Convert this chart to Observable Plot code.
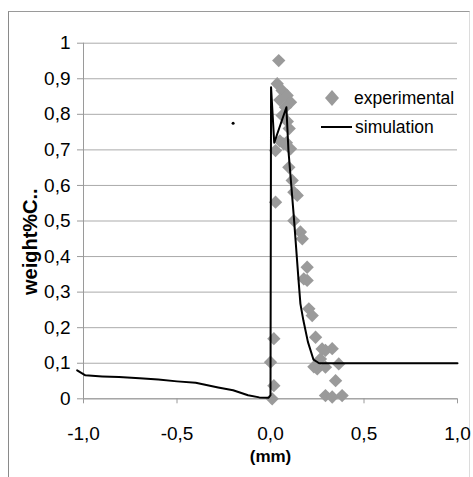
<!DOCTYPE html>
<html><head><meta charset="utf-8">
<script src="https://cdn.jsdelivr.net/npm/d3@7"></script>
<script src="https://cdn.jsdelivr.net/npm/@observablehq/plot@0.6"></script>
<style>
body{margin:0;background:#fff;}
#wrap{position:relative;width:473px;height:477px;overflow:hidden;font-family:"Liberation Sans",Arial,sans-serif;background:#fff;}
#border{position:absolute;left:8px;top:11px;width:460px;height:480px;border-left:1.5px solid #8a8a8a;border-top:1.5px solid #9a9a9a;border-right:1px solid #dcdcdc;}
#chart{position:absolute;left:0;top:0;}
.leg{position:absolute;font-size:17.5px;color:#000;white-space:nowrap;line-height:1;}
</style>
</head><body>
<div id="wrap"><div id="border"></div><div id="chart"></div>
<div class="leg" style="left:324px;top:89px;"><svg width="16" height="18" style="vertical-align:middle"><polygon points="8,1 15,9 8,17 1,9" fill="#9a9a9a"/></svg><span style="margin-left:14px;vertical-align:middle">experimental</span></div>
<div class="leg" style="left:321px;top:118px;"><svg width="31" height="16" style="vertical-align:middle"><line x1="0" y1="8" x2="31" y2="8" stroke="#000" stroke-width="2"/></svg><span style="margin-left:3px;vertical-align:middle">simulation</span></div>
</div>
<script>
const yLabel = "weight%C..";
const xLabel = "(mm)";
const yTicks = [0,0.1,0.2,0.3,0.4,0.5,0.6,0.7,0.8,0.9,1];
const xTicks = [-1,-0.5,0,0.5,1];

const simX = [-1.034,-0.99,-0.9,-0.81,-0.7,-0.6,-0.5,-0.4,-0.28,-0.2,-0.12,-0.06,-0.01,0.0,0.003,0.02,0.085,0.096,0.125,0.15,0.16,0.176,0.2,0.23,0.26,1.0];
const simY = [0.08,0.066,0.063,0.061,0.058,0.054,0.049,0.045,0.032,0.024,0.01,0.004,0.003,0.01,0.876,0.72,0.82,0.698,0.51,0.333,0.267,0.22,0.16,0.11,0.1,0.1];

const expX = [0.044,0.036,0.062,0.089,0.107,0.08,0.062,0.05,0.09,0.1,0.071,0.027,0.107,0.05,0.085,0.098,0.116,0.125,0.143,0.027,0.125,0.16,0.17,0.196,0.178,0.196,0.205,0.223,0.241,0.018,0.294,0.33,0.276,0.267,0.25,0.232,0.294,0.365,0.0,0.348,0.018,0.294,0.33,0.383,0.009];
const expY = [0.951,0.886,0.867,0.853,0.834,0.82,0.797,0.84,0.78,0.76,0.717,0.698,0.703,0.725,0.72,0.651,0.614,0.581,0.572,0.553,0.501,0.469,0.45,0.37,0.337,0.333,0.253,0.234,0.173,0.169,0.136,0.141,0.14,0.112,0.084,0.09,0.089,0.098,0.103,0.051,0.037,0.009,0.005,0.009,0.0];

const strayX = [-0.2];
const strayY = [0.775];

const sim = simX.map((x,i)=>({x, y:simY[i]}));
const exp = expX.map((x,i)=>({x, y:expY[i]}));
const stray = strayX.map((x,i)=>({x, y:strayY[i]}));

const fmtY = d => (d===0||d===1) ? String(d) : d.toFixed(1).replace(".", ",");
const fmtX = d => d.toFixed(1).replace(".", ",");

const plot = Plot.plot({
  width: 473, height: 477,
  marginLeft: 83, marginRight: 16, marginTop: 42.7, marginBottom: 78.7,
  x: {domain: [-1, 1]},
  y: {domain: [0, 1]},
  style: {fontFamily: '"Liberation Sans", Arial, sans-serif', fontSize: "19px", color: "#000", background: "transparent"},
  marks: [
    Plot.gridY(yTicks, {stroke: "#ababab", strokeOpacity: 1, strokeWidth: 1}),
    Plot.axisY(yTicks, {tickSize: 6, tickPadding: 7, tickFormat: fmtY, stroke: "#9a9a9a", label: null, fontSize: 19}),
    Plot.axisX(xTicks, {tickSize: 5, tickPadding: 23, tickFormat: fmtX, stroke: "#9a9a9a", label: null, fontSize: 19}),
    Plot.ruleX([-1], {stroke: "#9a9a9a"}),
    Plot.ruleY([0], {stroke: "#9a9a9a"}),
    Plot.dot(exp, {x: "x", y: "y", symbol: "diamond2", r: 6, fill: "#9a9a9a"}),
    Plot.line(sim, {x: "x", y: "y", stroke: "#000", strokeWidth: 2}),
    Plot.dot(stray, {x: "x", y: "y", r: 1.5, fill: "#000"}),
    Plot.text([yLabel], {frameAnchor: "left", rotate: -90, dx: -53, dy: 74, fontWeight: "bold", fontSize: 20, letterSpacing: "-0.5px"}),
    Plot.text([xLabel], {frameAnchor: "bottom", dy: 63, fontWeight: "bold", fontSize: 17, letterSpacing: "-0.5px"})
  ]
});
document.getElementById("chart").appendChild(plot);
</script>
</body></html>
